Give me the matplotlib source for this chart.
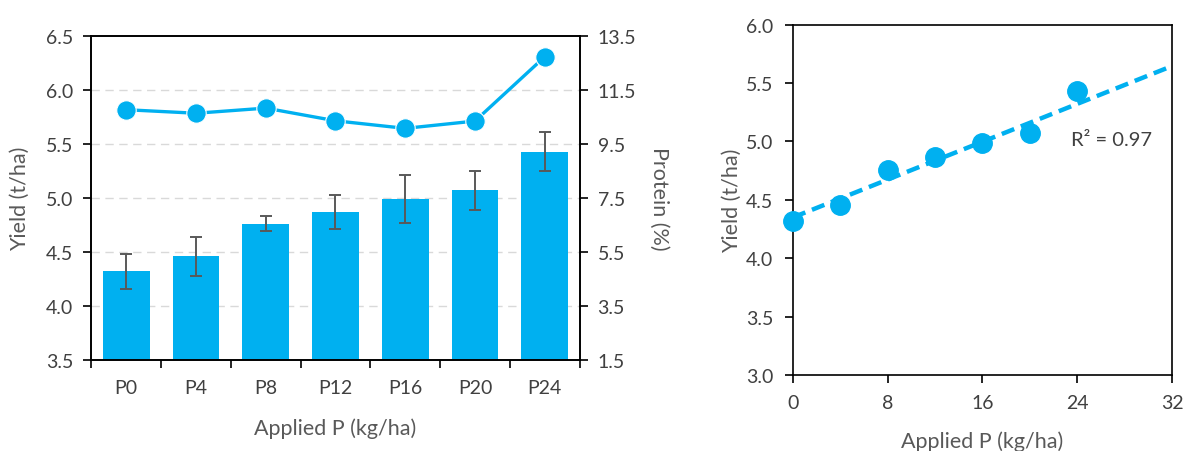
import numpy as np
import matplotlib
matplotlib.use("Agg")
import matplotlib.pyplot as plt
from matplotlib.ticker import FixedLocator

plt.rcParams["font.family"] = ["Lato", "DejaVu Sans"]

# data
treatments = ["P0", "P4", "P8", "P12", "P16", "P20", "P24"]
applied_p = [0, 4, 8, 12, 16, 20, 24]
yield_t = [4.32, 4.46, 4.76, 4.87, 4.99, 5.07, 5.43]
yield_err = [0.16, 0.18, 0.07, 0.16, 0.22, 0.18, 0.18]
protein = [10.77, 10.64, 10.83, 10.36, 10.08, 10.35, 12.73]

# linear trendline as drawn in the reference (slope, intercept)
trend_slope = 0.0405
trend_intercept = 4.35

blue = "#00B0F0"
txt = "#404040"
lab = "#595959"

fig = plt.figure(figsize=(11.83, 4.52), dpi=100)

# ---- left: bars + protein line ----
ax = fig.add_axes([0.0773, 0.2013, 0.4126, 0.7168])
x = np.arange(len(treatments))
ax.bar(x, yield_t, width=0.67, color=blue, zorder=2)
ax.errorbar(x, yield_t, yerr=yield_err, fmt="none", ecolor="#595959",
            elinewidth=1.4, capsize=4, capthick=1.4, zorder=3)
ax.set_ylim(3.5, 6.5)
ax.set_xlim(-0.5, 6.5)
yt = np.arange(3.5, 6.51, 0.5)
ax.set_yticks(yt)
ax.set_yticklabels([f"{v:.1f}" for v in yt])
for v in [4.0, 4.5, 5.0, 5.5, 6.0]:
    ax.axhline(v, color="#D9D9D9", lw=1, ls=(0, (6, 4)), zorder=1)
ax.set_xticks(x)
ax.set_xticklabels(treatments)
ax.xaxis.set_minor_locator(FixedLocator(np.arange(-0.5, 7, 1)))
ax.tick_params(axis="x", which="major", length=0, pad=14, labelsize=14, labelcolor=txt)
ax.tick_params(axis="x", which="minor", length=6, width=1.2, direction="out")
ax.tick_params(axis="y", length=6, width=1.2, direction="out", pad=7,
               labelsize=14, labelcolor=txt)
ax.set_ylabel("Yield (t/ha)", fontsize=15.5, color=lab, va="center")
ax.yaxis.set_label_coords(-0.147, 0.5)
ax.set_xlabel("Applied P (kg/ha)", fontsize=15.5, color=lab, va="center")
ax.xaxis.set_label_coords(0.5, -0.21)
for s in ax.spines.values():
    s.set_color("black")
    s.set_linewidth(1.2)

ax2 = ax.twinx()
ax2.plot(x, protein, color=blue, lw=2.4, marker="o", ms=14,
         mec="white", mew=0.8, zorder=4)
ax2.set_ylim(1.5, 13.5)
pt = np.arange(1.5, 13.51, 2)
ax2.set_yticks(pt)
ax2.set_yticklabels([f"{v:.1f}" for v in pt])
ax2.tick_params(axis="y", length=6, width=1.2, direction="out", pad=7,
                labelsize=14, labelcolor=txt)
ax2.set_ylabel("Protein (%)", fontsize=15.5, color=lab, rotation=270, va="center")
ax2.yaxis.set_label_coords(1.163, 0.5)
for s in ax2.spines.values():
    s.set_color("black")
    s.set_linewidth(1.2)

# ---- right: yield vs applied P ----
bx = fig.add_axes([0.6703, 0.1681, 0.3204, 0.775])
bx.plot(applied_p, yield_t, "o", color=blue, ms=14, zorder=3, clip_on=False)
xx = np.array([0, 32])
bx.plot(xx, trend_intercept + trend_slope * xx, color=blue, lw=3.2,
        ls=(0, (3, 1.6)), zorder=2)
bx.set_xlim(0, 32)
bx.set_ylim(3.0, 6.0)
bx.set_xticks([0, 8, 16, 24, 32])
yt2 = np.arange(3.0, 6.01, 0.5)
bx.set_yticks(yt2)
bx.set_yticklabels([f"{v:.1f}" for v in yt2])
bx.tick_params(axis="both", length=6, width=1.2, direction="out", pad=8,
               labelsize=14, labelcolor=txt)
bx.set_ylabel("Yield (t/ha)", fontsize=15.5, color=lab, va="center")
bx.yaxis.set_label_coords(-0.162, 0.5)
bx.set_xlabel("Applied P (kg/ha)", fontsize=15.5, color=lab, va="center")
bx.xaxis.set_label_coords(0.5, -0.187)
bx.text(23.5, 5.02, "R² = 0.97", fontsize=14.5, color=txt, va="center", ha="left")
for s in bx.spines.values():
    s.set_color("black")
    s.set_linewidth(1.2)

fig.savefig("out.png", dpi=100)
